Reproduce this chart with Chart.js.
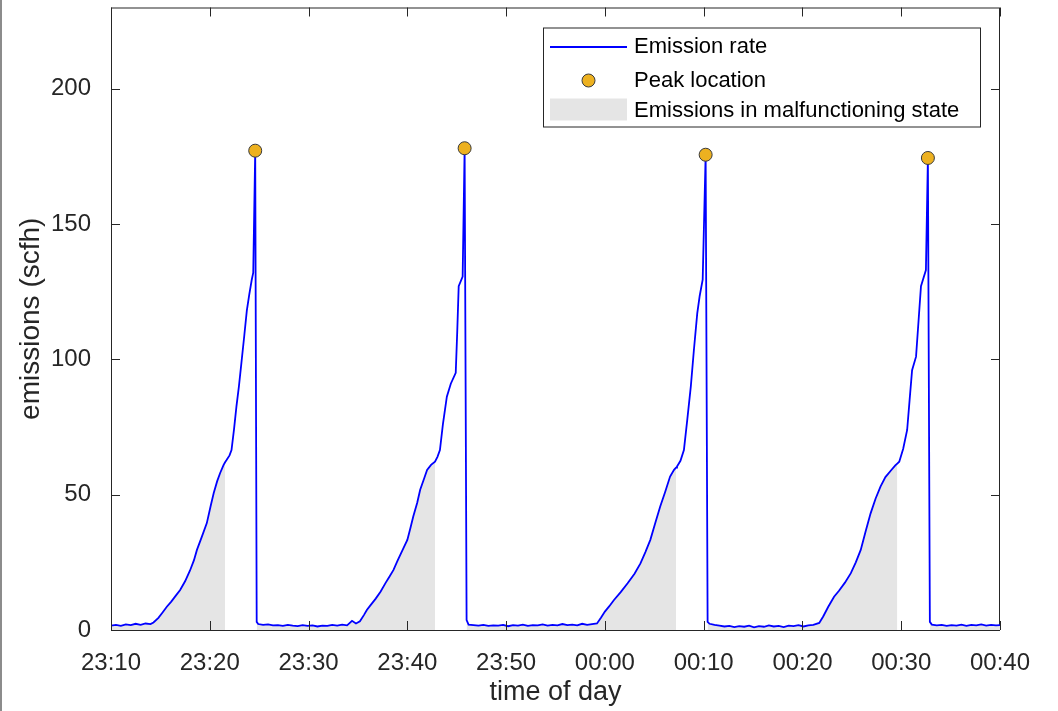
<!DOCTYPE html>
<html>
<head>
<meta charset="utf-8">
<script src="https://cdn.jsdelivr.net/npm/chart.js@4.4.1/dist/chart.umd.min.js"></script>
<style>
  html, body { margin: 0; padding: 0; background: #fff; }
  canvas { display: block; }
</style>
</head>
<body>
<canvas id="emissionChart" width="1058" height="711"></canvas>
<script>
// tijd in minuten na 23:10, waarden in scfh
const base0 = [[0,1.6],[0.5,1.9],[1,1.5],[1.5,2.1],[2,1.8],[2.5,2.3],[3,1.9],[3.5,2.4],[4,2.2],[4.3,2.8]];
const rise1 = [[4.8,4.5],[5.2,6.4],[5.65,8.6],[6.1,10.5],[6.6,12.9],[7.0,14.8],[7.5,18.0],[8.0,22.0],[8.4,25.8],[8.7,29.6],
  [9.2,34.5],[9.7,39.5],[10.1,46.0],[10.4,50.6],[10.75,55.0],[11.05,58.0],[11.4,61.0],[11.55,62.0],[11.7,62.8],[12.0,64.5],
  [12.2,66.5],[12.45,74.0],[12.7,82.6],[12.95,90.0],[13.2,98.6],[13.5,109.0],[13.75,118.0],[14.0,124.0],[14.25,129.4],[14.4,132.0],
  [14.6,177.1],[14.75,3.0],[14.9,2.2]];
const base1 = [[15.4,1.9],[15.9,2.1],[16.4,1.7],[16.9,1.8],[17.4,1.5],[17.9,1.9],[18.4,1.6],[18.9,1.4],[19.4,1.8],[19.9,1.5],
  [20.4,1.7],[20.9,1.3],[21.4,1.6],[21.9,1.5],[22.4,1.9],[22.9,1.6],[23.4,2.0],[23.9,1.7],[24.4,3.4],[24.8,2.4],[25.2,3.2]];
const rise2 = [[25.6,5.5],[25.9,7.4],[26.3,9.3],[26.8,11.6],[27.3,14.2],[27.8,17.4],[28.2,19.8],[28.6,22.2],[29.0,25.5],[29.5,29.4],
  [30.0,33.3],[30.3,37.5],[30.6,41.9],[31.0,47.0],[31.3,51.8],[31.7,56.0],[32.0,59.1],[32.4,61.0],[32.8,62.2],[33.05,64.0],
  [33.3,66.5],[33.6,76.0],[34.0,86.2],[34.4,91.0],[34.9,95.0],[35.05,110.0],[35.2,127.0],[35.6,130.6],[35.8,178.0],[36.0,3.7],[36.2,2.0]];
const base2 = [[36.7,1.8],[37.2,1.6],[37.7,1.9],[38.2,1.5],[38.7,1.7],[39.2,1.6],[39.7,1.9],[40.2,1.4],[40.7,1.8],[41.2,1.6],
  [41.7,2.0],[42.2,1.5],[42.7,1.8],[43.2,1.7],[43.7,2.1],[44.2,1.6],[44.7,1.9],[45.2,1.7],[45.7,2.2],[46.2,1.8],[46.7,2.0],
  [47.2,1.7],[47.7,2.3],[48.2,1.9],[48.7,2.2],[49.2,2.4]];
const rise3 = [[49.6,4.5],[50.0,6.8],[50.45,8.8],[50.9,11.0],[51.6,14.0],[52.3,17.3],[53.0,20.8],[53.6,24.6],[54.1,28.8],[54.6,33.3],
  [55.1,39.5],[55.6,45.6],[56.1,51.0],[56.6,56.7],[57.0,59.2],[57.2,60.0],[57.3,60.4],[57.65,62.5],[58.0,66.5],[58.35,78.0],
  [58.7,90.0],[59.0,103.0],[59.35,117.0],[59.6,123.5],[59.9,129.4],[60.2,175.6],[60.4,3.0],[60.6,2.3]];
const base3 = [[61.1,1.9],[61.6,1.6],[62.1,1.3],[62.6,1.5],[63.1,1.1],[63.6,1.4],[64.1,1.2],[64.6,1.6],[65.1,1.0],[65.6,1.4],
  [66.1,1.2],[66.6,1.7],[67.1,1.3],[67.6,1.5],[68.1,1.1],[68.6,1.6],[69.1,1.4],[69.6,1.8],[70.1,1.3],[70.6,1.7],[71.1,1.9],[71.7,2.6]];
const rise4 = [[72.1,5.0],[72.6,8.5],[73.2,12.3],[73.7,14.5],[74.3,17.5],[74.9,21.0],[75.4,25.0],[75.9,29.6],[76.4,36.5],[76.9,43.1],
  [77.4,48.5],[77.9,53.0],[78.4,56.5],[79.0,59.1],[79.4,60.8],[79.6,61.5],[79.8,62.2],[80.2,67.0],[80.6,73.9],[80.85,85.0],
  [81.1,96.0],[81.5,101.0],[81.75,114.0],[82.0,127.0],[82.5,133.0],[82.7,174.4],[82.9,3.0],[83.1,2.0]];
const base4 = [[83.6,1.7],[84.1,1.9],[84.6,1.5],[85.1,1.8],[85.6,1.6],[86.1,2.0],[86.6,1.5],[87.1,1.9],[87.6,1.7],[88.1,2.1],
  [88.6,1.6],[89.1,1.9],[89.6,1.7],[90,1.8]];

const peakTimes = [14.6, 35.8, 60.2, 82.7];
const peakValues = [177.1, 178.0, 175.6, 174.4];

// periodes in storingstoestand (begin, eind) in minuten
const malfunctionPeriods = [[0, 11.55], [14.75, 32.8], [36.0, 57.2], [60.4, 79.6], [82.9, 90]];

const xTickValues = [0, 10, 20, 30, 40, 50, 60, 70, 80, 90];
const xTickLabels = ['23:10', '23:20', '23:30', '23:40', '23:50', '00:00', '00:10', '00:20', '00:30', '00:40'];
const yTickValues = [0, 50, 100, 150, 200];

const FONT = "'Liberation Sans', Arial, Helvetica, sans-serif";
const AXIS_COLOR = '#262626';

const emission = [].concat(base0, rise1, base1, rise2, base2, rise3, base3, rise4, base4)
  .map(p => ({ x: p[0], y: p[1] }));

const inMalfunction = t => malfunctionPeriods.some(p => t >= p[0] && t <= p[1]);
const malfunctionFill = emission.map(p => ({ x: p.x, y: inMalfunction(p.x) ? p.y : null }));
const peaks = peakTimes.map((t, i) => ({ x: t, y: peakValues[i] }));

// kader, tickjes en legenda in MATLAB-stijl
const matlabAxes = {
  id: 'matlabAxes',
  beforeDatasetsDraw(chart) {
    const { ctx, chartArea: a } = chart;
    ctx.save();
    // rand links van de afbeelding
    ctx.fillStyle = '#8c8c8c';
    ctx.fillRect(0, 0, 2, chart.height);
    ctx.strokeStyle = AXIS_COLOR;
    ctx.lineWidth = 1;
    ctx.strokeRect(a.left + 0.5, a.top + 0.5, a.right - a.left - 1, a.bottom - a.top);
    ctx.restore();
  },
  afterDatasetsDraw(chart) {
    const { ctx, chartArea: a, scales } = chart;
    const tl = 9;
    ctx.save();
    ctx.strokeStyle = AXIS_COLOR;
    ctx.lineWidth = 1;
    ctx.beginPath();
    xTickValues.forEach(v => {
      const px = Math.round(scales.x.getPixelForValue(v)) + 0.5;
      ctx.moveTo(px, a.bottom); ctx.lineTo(px, a.bottom - tl);
      ctx.moveTo(px, a.top); ctx.lineTo(px, a.top + tl);
    });
    yTickValues.forEach(v => {
      const py = Math.round(scales.y.getPixelForValue(v)) + 0.5;
      ctx.moveTo(a.left, py); ctx.lineTo(a.left + tl, py);
      ctx.moveTo(a.right, py); ctx.lineTo(a.right - tl, py);
    });
    ctx.stroke();

    // legenda
    const ds = chart.data.datasets;
    const bx = a.right - 457, by = a.top + 20, bw = 437, bh = 99;
    ctx.fillStyle = '#fff';
    ctx.fillRect(bx, by, bw, bh);
    ctx.strokeStyle = AXIS_COLOR;
    ctx.strokeRect(bx + 0.5, by + 0.5, bw, bh);

    const sx = bx + 7, sw = 77, tx = bx + 91;
    const rows = [by + 19.5, by + 53, by + 83];
    ctx.strokeStyle = ds[1].borderColor;
    ctx.lineWidth = 2;
    ctx.beginPath();
    ctx.moveTo(sx, rows[0]); ctx.lineTo(sx + sw, rows[0]);
    ctx.stroke();

    ctx.beginPath();
    ctx.arc(sx + sw / 2, rows[1], 6.5, 0, Math.PI * 2);
    ctx.fillStyle = ds[0].backgroundColor;
    ctx.fill();
    ctx.lineWidth = 1;
    ctx.strokeStyle = ds[0].borderColor;
    ctx.stroke();

    ctx.fillStyle = ds[2].backgroundColor;
    ctx.fillRect(sx, rows[2] - 12, sw, 22);

    ctx.fillStyle = '#000';
    ctx.font = '22px ' + FONT;
    ctx.textBaseline = 'middle';
    ctx.textAlign = 'left';
    ctx.fillText(ds[1].label, tx, rows[0]);
    ctx.fillText(ds[0].label, tx, rows[1]);
    ctx.fillText(ds[2].label, tx, rows[2]);
    ctx.restore();
  }
};

const ctx = document.getElementById('emissionChart').getContext('2d');

new Chart(ctx, {
  type: 'line',
  data: {
    datasets: [
      {
        label: 'Peak location',
        data: peaks,
        showLine: false,
        pointRadius: 6.5,
        pointHoverRadius: 6.5,
        pointBackgroundColor: '#EDB120',
        pointBorderColor: '#3a3a3a',
        pointBorderWidth: 1,
        backgroundColor: '#EDB120',
        borderColor: '#3a3a3a',
        clip: false
      },
      {
        label: 'Emission rate',
        data: emission,
        borderColor: '#0000ff',
        borderWidth: 1.8,
        pointRadius: 0,
        tension: 0,
        fill: false
      },
      {
        label: 'Emissions in malfunctioning state',
        data: malfunctionFill,
        borderWidth: 0,
        borderColor: 'rgba(0,0,0,0)',
        backgroundColor: '#e5e5e5',
        pointRadius: 0,
        spanGaps: false,
        fill: 'origin'
      }
    ]
  },
  options: {
    responsive: false,
    animation: false,
    events: [],
    layout: { padding: { left: 0, right: 58, top: 7, bottom: 0 } },
    scales: {
      x: {
        type: 'linear',
        min: 0,
        max: 90,
        grid: { display: false },
        border: { display: false },
        afterFit: s => { s.height = 81; s.paddingLeft = 0; s.paddingRight = 0; },
        afterBuildTicks: s => { s.ticks = xTickValues.map(v => ({ value: v })); },
        ticks: {
          padding: 11,
          maxRotation: 0,
          autoSkip: false,
          color: AXIS_COLOR,
          font: { family: FONT, size: 24 },
          callback: (v, i) => xTickLabels[i]
        },
        title: {
          display: true,
          text: 'time of day',
          color: AXIS_COLOR,
          font: { family: FONT, size: 27 },
          padding: { top: 0, bottom: 2 }
        }
      },
      y: {
        min: 0,
        max: 230,
        grid: { display: false },
        border: { display: false },
        afterFit: s => { s.width = 111; s.paddingTop = 0; s.paddingBottom = 0; },
        afterBuildTicks: s => { s.ticks = yTickValues.map(v => ({ value: v })); },
        ticks: {
          padding: 12,
          color: AXIS_COLOR,
          font: { family: FONT, size: 24 }
        },
        title: {
          display: true,
          text: 'emissions (scfh)',
          color: AXIS_COLOR,
          font: { family: FONT, size: 28 },
          padding: { top: 14, bottom: 0 }
        }
      }
    },
    plugins: {
      legend: { display: false },
      tooltip: { enabled: false }
    }
  },
  plugins: [matlabAxes]
});
</script>
</body>
</html>
